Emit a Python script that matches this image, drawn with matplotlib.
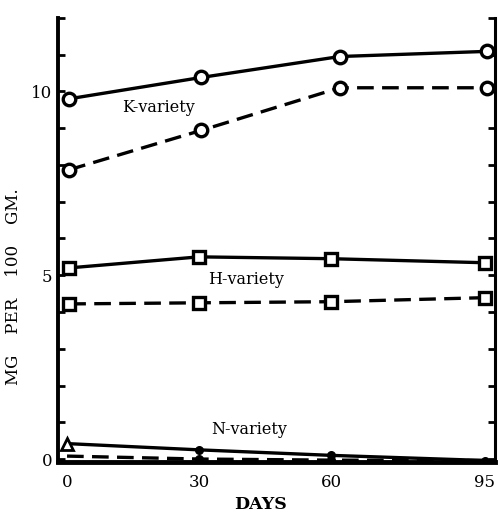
import matplotlib
matplotlib.use('Agg')
import matplotlib.pyplot as plt

# Values (mg per 100 gm vs days)
k_days = [0.5, 30.5, 62, 95.5]
k_solid = [9.8, 10.38, 10.95, 11.09]
k_dashed = [7.87, 8.94, 10.1, 10.1]

h_days = [0.5, 30, 60, 95]
h_solid = [5.2, 5.5, 5.45, 5.34]
h_dashed = [4.22, 4.25, 4.28, 4.39]

n_days = [0, 30, 60, 95]
n_solid = [0.42, 0.25, 0.1, -0.04]
n_dashed = [0.08, 0.0, -0.03, -0.04]

x_ticks = [0, 30, 60, 95]
y_ticks = list(range(0, 13))
y_labels = ['0', '', '', '', '', '5', '', '', '', '', '10', '', '']

plt.rcParams['font.family'] = ['DejaVu Serif']

fig = plt.figure(figsize=(4.98, 5.12), dpi=100)
ax = fig.add_axes([0.1165, 0.0977, 0.8775, 0.8673])

lw = 2.4
dash = (0, (5, 2.5))
circ = dict(marker='o', markersize=9, markerfacecolor='white', markeredgecolor='black', markeredgewidth=2.4)
sq = dict(marker='s', markersize=8, markerfacecolor='white', markeredgecolor='black', markeredgewidth=2.4)

ax.plot(k_days, k_solid, color='black', lw=lw, **circ)
ax.plot(k_days, k_dashed, color='black', lw=lw, linestyle=dash, **circ)
ax.plot(h_days, h_solid, color='black', lw=lw, **sq)
ax.plot(h_days, h_dashed, color='black', lw=lw, linestyle=dash, **sq)

# N-variety: open triangle at day 0, small dots after
ax.plot(n_days, n_solid, color='black', lw=lw, marker='^', markevery=[0], markersize=8,
        markerfacecolor='white', markeredgecolor='black', markeredgewidth=2)
ax.plot(n_days, n_dashed, color='black', lw=lw, linestyle=dash)
ax.scatter(n_days[1:3], n_solid[1:3], s=30, color='black', zorder=3)
ax.scatter(n_days[1:], n_dashed[1:], s=30, color='black', zorder=3)

ax.text(20.9, 9.56, 'K-variety', fontsize=11.5, ha='center', va='center')
ax.text(40.7, 4.88, 'H-variety', fontsize=11.5, ha='center', va='center')
ax.text(41.4, 0.79, 'N-variety', fontsize=11.5, ha='center', va='center')

ax.set_xlim(-2.05, 97.3)
ax.set_ylim(-0.08, 12.0)

ax.set_xticks(x_ticks)
ax.set_xticklabels([str(v) for v in x_ticks], fontsize=12)
ax.set_yticks(y_ticks)
ax.set_yticklabels(y_labels, fontsize=12)
ax.tick_params(axis='x', length=0, pad=9)
ax.tick_params(axis='y', direction='in', length=5, width=2, pad=4, right=True)

ax.spines['top'].set_visible(False)
ax.spines['left'].set_linewidth(2.8)
ax.spines['right'].set_linewidth(2.2)
ax.spines['bottom'].set_linewidth(3.5)

ax.set_xlabel('DAYS', fontsize=12.5, fontweight='bold')
ax.xaxis.set_label_coords(0.463, -0.077)
ax.set_ylabel('MG    PER    100    GM.', fontsize=12)
ax.yaxis.set_label_coords(-0.082, 0.394)

fig.savefig('out.png', dpi=100)
